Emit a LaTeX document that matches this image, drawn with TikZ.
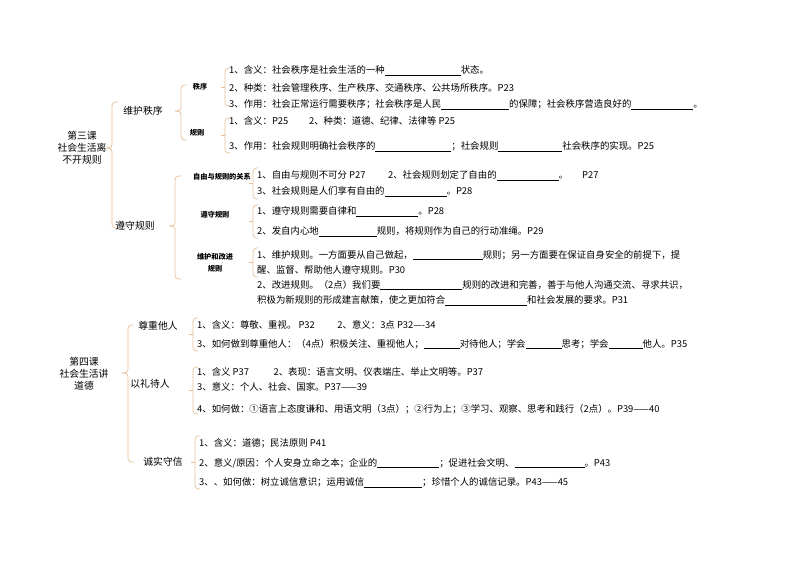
\documentclass[tikz,border=0pt]{standalone}
\usepackage{fontspec}
\setmainfont{Noto Sans CJK SC}
\newcommand{\blk}[1]{\underline{\hspace{#1pt}}}
\newcommand{\brc}[4]{\draw[brc] (#1+6,#2) -- (#1,#2) -- (#1,#3) -- (#1-6,#3);\draw[brc] (#1-6,#3) -- (#1,#3) -- (#1,#4) -- (#1+6,#4);}
\newcommand{\bkt}[3]{\draw[brc] (#1+5,#2) -- (#1,#2) -- (#1,#3) -- (#1+5,#3);\draw[brc](#1-4,#2/2+#3/2)--(#1,#2/2+#3/2);}
\begin{document}
\begin{tikzpicture}[x=1pt,y=-1pt,
 brc/.style={draw=brown!45!white!90!orange, line width=0.7pt, rounded corners=3.5pt},
 t/.style={anchor=west,inner sep=0pt,font=\fontsize{9.4}{10}\selectfont},
 h/.style={inner sep=0pt,font=\fontsize{9.8}{12}\selectfont,align=center},
 s/.style={inner sep=0pt,font=\fontsize{7.2}{10}\selectfont\bfseries,align=center}]
\useasboundingbox (0,0) rectangle (794,561);
% lesson 3
\node[h] (l3) at (82,148) {第三课\\社会生活离\\不开规则};
\brc{112}{102}{148}{228}
\node[h] (wh) at (143,111) {维护秩序};
\node[h] (zs) at (135,226) {遵守规则};
\brc{181}{85}{111}{140}
\node[s] (zx) at (200,87) {秩序};
\node[s] (gz) at (197,133) {规则};
\bkt{225}{68}{106}
\node[t] (a1) at (229,71) {1、含义：社会秩序是社会生活的一种\blk{76}状态。};
\node[t] (a2) at (229,88) {2、种类：社会管理秩序、生产秩序、交通秩序、公共场所秩序。P23};
\node[t] (a3) at (229,105) {3、作用：社会正常运行需要秩序；社会秩序是人民\blk{68}的保障；社会秩序营造良好的\blk{62}。};
\bkt{225}{118}{153}
\node[t] (b1) at (229,121) {1、含义：P25\hspace{2.2em}2、种类：道德、纪律、法律等 P25};
\node[t] (b2) at (229,147) {3、作用：社会规则明确社会秩序的\blk{76}；社会规则\blk{64}社会秩序的实现。P25};
\brc{175}{176}{226}{279}
\node[s] (gx) at (222,177) {自由与规则的关系};
\node[s] (zg) at (215,215) {遵守规则};
\node[s] (wg) at (215,263) {维护和改进\\[2pt]规则};
\bkt{253}{168}{199}
\node[t] (c1) at (257,176) {1、自由与规则不可分 P27\hspace{2.4em}2、社会规则划定了自由的\blk{62}。\hspace{1.5em}P27};
\node[t] (c2) at (257,192) {3、社会规则是人们享有自由的\blk{62}。P28};
\bkt{253}{205}{238}
\node[t] (d1) at (257,212) {1、遵守规则需要自律和\blk{62}。P28};
\node[t] (d2) at (257,232) {2、发自内心地\blk{58}规则，将规则作为自己的行动准绳。P29};
\bkt{253}{248}{277}
\node[t] (e1) at (257,255) {1、维护规则。一方面要从自己做起，\blk{70}规则；另一方面要在保证自身安全的前提下，提};
\node[t] (e2) at (257,270) {醒、监督、帮助他人遵守规则。P30};
\node[t] (e3) at (257,285) {2、改进规则。（2点）我们要\blk{82}规则的改进和完善，善于与他人沟通交流、寻求共识，};
\node[t] (e4) at (257,301) {积极为新规则的形成建言献策，使之更加符合\blk{82}和社会发展的要求。P31};
% lesson 4
\node[h] (l4) at (84,374) {第四课\\社会生活讲\\道德};
\brc{128}{325}{373}{462}
\node[h] (zr) at (158,326) {尊重他人};
\node[h] (yl) at (150,384) {以礼待人};
\node[h] (cx) at (163,462) {诚实守信};
\bkt{193}{318}{351}
\node[t] (f1) at (197,325) {1、含义：尊敬、重视。 P32\hspace{2.4em}2、意义：3点 P32----34};
\node[t] (f2) at (197,344) {3、如何做到尊重他人：（4点）积极关注、重视他人；\blk{36}对待他人；学会\blk{36}思考；学会\blk{34}他人。P35};
\bkt{193}{367}{414}
\node[t] (g1) at (197,372) {1、含义 P37\hspace{2.6em}2、表现：语言文明、仪表端庄、举止文明等。P37};
\node[t] (g2) at (197,387) {3、意义：个人、社会、国家。P37——39};
\node[t] (g3) at (197,409) {4、如何做：①语言上态度谦和、用语文明（3点）；②行为上；③学习、观察、思考和践行（2点）。P39——40};
\bkt{195}{436}{489}
\node[t] (k1) at (199,443) {1、含义：道德；民法原则 P41};
\node[t] (k2) at (199,463) {2、意义/原因：个人安身立命之本；企业的\blk{62}；促进社会文明、\blk{70}。P43};
\node[t] (k3) at (199,483) {3、、如何做：树立诚信意识；运用诚信\blk{58}；珍惜个人的诚信记录。P43——45};
\end{tikzpicture}
\end{document}
